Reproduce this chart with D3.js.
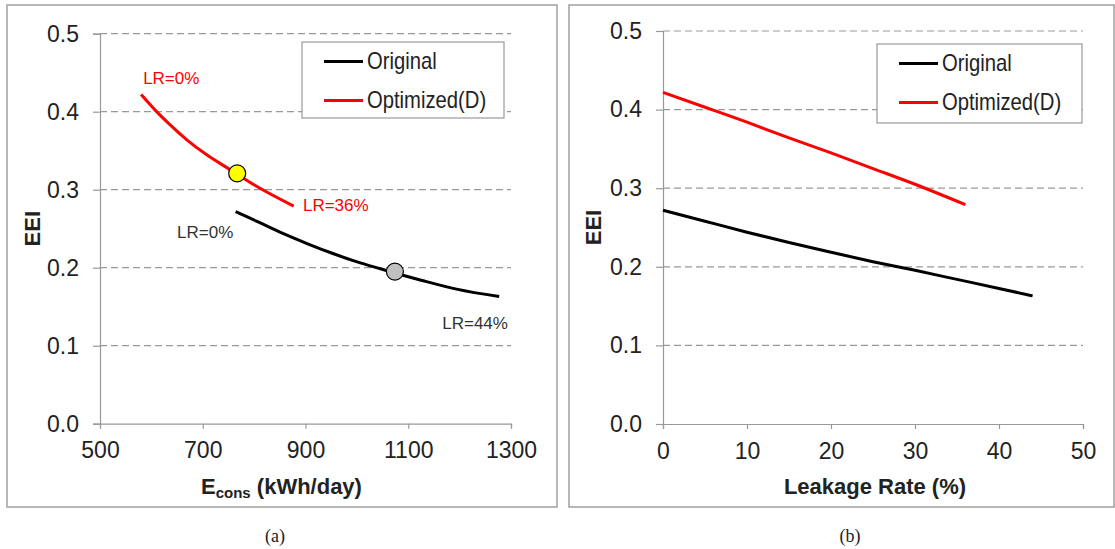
<!DOCTYPE html>
<html>
<head>
<meta charset="utf-8">
<script src="https://cdn.jsdelivr.net/npm/d3@7"></script>
<style>
  body { margin: 0; background: #fff; }
  svg { font-family: Arial, "Liberation Sans", sans-serif; }
</style>
</head>
<body>
<div id="chart"></div>
<script>
// leakage rate steps (%) and the matching EEI / energy use
const lrOriginal = [0, 5, 10, 15, 20, 25, 30, 35, 40, 44];
const eeiOriginal = [0.272, 0.258, 0.244, 0.231, 0.2185, 0.2065, 0.1955, 0.184, 0.1725, 0.163];
const econsOriginal = [764, 810, 856, 903, 952, 1005, 1062, 1125, 1194, 1277];

const lrOptimized = [0, 5, 10, 15, 20, 25, 30, 36];
const eeiOptimized = [0.422, 0.403, 0.384, 0.364, 0.345, 0.325, 0.305, 0.279];
const econsOptimized = [580, 606, 635, 669, 707, 755, 803, 877];

// highlighted operating points (E_cons, EEI)
const pointOptimized = [767, 0.321];
const pointOriginal = [1074, 0.195];

const eeiTicks = [0, 0.1, 0.2, 0.3, 0.4, 0.5];
const econsTicks = [500, 700, 900, 1100, 1300];
const lrTicks = [0, 10, 20, 30, 40, 50];

const seriesNames = ['Original', 'Optimized(D)'];
const seriesColors = ['#000000', '#ff0000'];

const width = 1115, height = 549;
const svg = d3.select('#chart').append('svg').attr('width', width).attr('height', height);

const drawPanel = (cfg) => {
  const {box, left, right, top, bottom, xDomain, xTicks, caption, legend} = cfg;

  svg.append('rect')
    .attr('x', box[0]).attr('y', box[1])
    .attr('width', box[2] - box[0]).attr('height', box[3] - box[1])
    .attr('fill', 'none').attr('stroke', '#a0a0a0').attr('stroke-width', 1.5);

  const x = d3.scaleLinear().domain(xDomain).range([left, right]);
  const y = d3.scaleLinear().domain([0, 0.5]).range([bottom, top]);

  // dashed gridlines
  svg.append('g')
    .selectAll('line')
    .data(eeiTicks.filter(d => d > 0))
    .join('line')
    .attr('x1', left).attr('x2', right)
    .attr('y1', d => y(d)).attr('y2', d => y(d))
    .attr('stroke', '#999').attr('stroke-width', 1.2)
    .attr('stroke-dasharray', '7,4');

  const yAxis = d3.axisLeft(y).tickValues(eeiTicks).tickFormat(d3.format('.1f')).tickSize(7).tickPadding(14);
  const gy = svg.append('g').attr('transform', `translate(${left},0)`).call(yAxis);
  const xAxis = d3.axisBottom(x).tickValues(xTicks).tickFormat(d3.format('d')).tickSize(5).tickPadding(10);
  const gx = svg.append('g').attr('transform', `translate(0,${bottom})`).call(xAxis);

  [gy, gx].forEach(g => {
    g.select('.domain').attr('stroke', '#999').attr('stroke-width', 1.2);
    g.selectAll('.tick line').attr('stroke', '#999').attr('stroke-width', 1.2);
    g.selectAll('.tick text').attr('font-size', 23).attr('fill', '#222')
      .attr('font-family', 'Arial, "Liberation Sans", sans-serif');
  });
  gx.selectAll('.tick text').attr('dy', '0.85em');

  // y title
  svg.append('text')
    .attr('transform', `translate(${cfg.yTitleX},${(top + bottom) / 2}) rotate(-90)`)
    .attr('text-anchor', 'middle').attr('dominant-baseline', 'central')
    .attr('font-size', 22).attr('font-weight', 'bold').attr('fill', '#222')
    .text('EEI');

  // caption
  svg.append('text')
    .attr('x', cfg.captionX).attr('y', 536)
    .attr('text-anchor', 'middle').attr('dominant-baseline', 'central')
    .attr('font-family', '"Liberation Serif", "Times New Roman", serif')
    .attr('font-size', 18).attr('fill', '#222')
    .text(caption);

  // legend
  const lg = svg.append('g');
  lg.append('rect')
    .attr('x', legend[0]).attr('y', legend[1])
    .attr('width', legend[2] - legend[0]).attr('height', legend[3] - legend[1])
    .attr('fill', '#fff').attr('stroke', '#999').attr('stroke-width', 1.2);
  seriesNames.forEach((name, i) => {
    const ly = legend[1] + 19.5 + i * 39;
    lg.append('line')
      .attr('x1', legend[0] + 22).attr('x2', legend[0] + 61)
      .attr('y1', ly).attr('y2', ly)
      .attr('stroke', seriesColors[i]).attr('stroke-width', 3);
    lg.append('text')
      .attr('transform', `translate(${legend[0] + 65},${ly}) scale(0.88,1)`)
      .attr('dominant-baseline', 'central')
      .attr('font-size', 23).attr('fill', '#222')
      .text(name);
  });

  return {x, y};
};

// ---- panel (a): EEI vs energy consumption ----
const a = drawPanel({
  box: [7, 5, 557, 507], left: 100, right: 511, top: 33.7, bottom: 423.7,
  xDomain: [500, 1300], xTicks: econsTicks, caption: '(a)', captionX: 275,
  yTitleX: 32, legend: [302, 42, 504, 118]
});

const lineA = d3.line().x(d => a.x(d[0])).y(d => a.y(d[1])).curve(d3.curveMonotoneX);
svg.append('path')
  .datum(d3.zip(econsOriginal, eeiOriginal))
  .attr('d', lineA).attr('fill', 'none')
  .attr('stroke', seriesColors[0]).attr('stroke-width', 3);
svg.append('path')
  .datum(d3.zip(econsOptimized, eeiOptimized))
  .attr('d', lineA).attr('fill', 'none')
  .attr('stroke', seriesColors[1]).attr('stroke-width', 3);

svg.append('circle')
  .attr('cx', a.x(pointOptimized[0])).attr('cy', a.y(pointOptimized[1])).attr('r', 8.5)
  .attr('fill', '#ffff00').attr('stroke', '#000').attr('stroke-width', 1.2);
svg.append('circle')
  .attr('cx', a.x(pointOriginal[0])).attr('cy', a.y(pointOriginal[1])).attr('r', 8.5)
  .attr('fill', '#c0c0c0').attr('stroke', '#000').attr('stroke-width', 1.2);

const annot = (txt, ex, ev, color, anchor) => {
  svg.append('text')
    .attr('x', a.x(ex)).attr('y', a.y(ev))
    .attr('text-anchor', anchor).attr('dominant-baseline', 'central')
    .attr('font-size', 17).attr('fill', color)
    .text(txt);
};
annot('LR=0%', 584, 0.443, '#ff0000', 'start');
annot('LR=36%', 895, 0.280, '#ff0000', 'start');
annot('LR=0%', 650, 0.2445, '#333', 'start');
annot('LR=44%', 1294, 0.129, '#333', 'end');

// ---- panel (b): EEI vs leakage rate ----
const b = drawPanel({
  box: [569, 5, 1114, 507], left: 663, right: 1083, top: 31, bottom: 424,
  xDomain: [0, 50], xTicks: lrTicks, caption: '(b)', captionX: 850,
  yTitleX: 593, legend: [877, 44, 1082, 123]
});

const lineB = d3.line().x(d => b.x(d[0])).y(d => b.y(d[1])).curve(d3.curveMonotoneX);
svg.append('path')
  .datum(d3.zip(lrOriginal, eeiOriginal))
  .attr('d', lineB).attr('fill', 'none')
  .attr('stroke', seriesColors[0]).attr('stroke-width', 3);
svg.append('path')
  .datum(d3.zip(lrOptimized, eeiOptimized))
  .attr('d', lineB).attr('fill', 'none')
  .attr('stroke', seriesColors[1]).attr('stroke-width', 3);

// x titles
svg.append('text')
  .attr('x', 201).attr('y', 486).attr('dominant-baseline', 'central')
  .attr('font-size', 22).attr('font-weight', 'bold').attr('fill', '#222')
  .call(t => {
    t.append('tspan').text('E');
    t.append('tspan').attr('font-size', 15).attr('dy', 6).text('cons');
    t.append('tspan').attr('dy', -6).text(' (kWh/day)');
  });
svg.append('text')
  .attr('x', 875).attr('y', 486)
  .attr('text-anchor', 'middle').attr('dominant-baseline', 'central')
  .attr('font-size', 22).attr('font-weight', 'bold').attr('fill', '#222')
  .text('Leakage Rate (%)');
</script>
</body>
</html>
